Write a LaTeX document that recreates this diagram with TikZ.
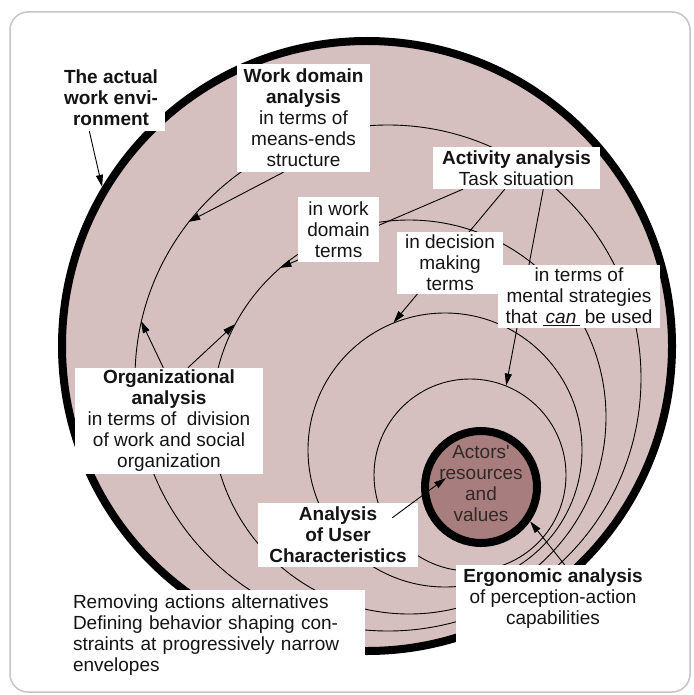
\documentclass[tikz,border=0pt]{standalone}
\usepackage{fontspec}
\setmainfont{Liberation Sans}
\newfontfamily\coresans{Liberation Sans}
\usetikzlibrary{arrows.meta,calc}
\pgfdeclarelayer{bg}
\pgfsetlayers{bg,main}
\definecolor{ringfill}{RGB}{214,192,191}
\definecolor{corefill}{RGB}{168,125,125}
\definecolor{framegray}{RGB}{196,196,196}
\definecolor{txt}{RGB}{20,20,20}
\definecolor{coretxt}{RGB}{50,40,40}
\begin{document}
\begin{tikzpicture}[x=1pt,y=-1pt,
  font=\fontsize{19pt}{21pt}\selectfont,
  textbox/.style={fill=white, inner sep=0pt, align=center, text=txt},
  ring/.style={circle, draw=black, inner sep=0pt},
  thinring/.style={ring, line width=0.9pt},
  link/.style={draw=black, line width=0.9pt},
  arrowlink/.style={link, -{Triangle[length=12pt,width=7pt]}},
]
\useasboundingbox (0,0) rectangle (693,695);

% text boxes (main layer)
\node[textbox, minimum width=108pt, minimum height=66pt] (env) at (111,98) {\textbf{The actual}\\\textbf{work envi-}\\\textbf{ronment}};
\node[textbox, minimum width=133pt, minimum height=108pt] (wd) at (303.5,118) {\textbf{Work domain}\\\textbf{analysis}\\in terms of\\means-ends\\structure};
\node[textbox, minimum width=167pt, minimum height=42pt] (act) at (516.5,168) {\textbf{Activity analysis}\\Task situation};
\node[textbox, minimum width=81pt, minimum height=65pt] (wdterms) at (338.5,229.5) {in work\\domain\\terms};
\node[textbox, minimum width=106pt, minimum height=62pt] (dec) at (450,263) {in decision\\making\\terms};
\node[textbox, minimum width=162pt, minimum height=63pt] (mental) at (579,296.5) {in terms of\\mental strategies\\that \underline{\,\textit{can}\,} be used};
\node[textbox, minimum width=188pt, minimum height=106pt] (org) at (169,421) {\textbf{Organizational}\\\textbf{analysis}\\in terms of\ \ division\\of work and social\\organization};
\node[textbox, minimum width=160pt, minimum height=64pt] (user) at (338,535) {\textbf{Analysis}\\\textbf{of User}\\\textbf{Characteristics}};
\node[textbox, minimum width=194pt, minimum height=67pt] (ergo) at (553,598.5) {\textbf{Ergonomic analysis}\\of perception-action\\capabilities};
\fill[white] (ergo.south west) rectangle ($(ergo.south east)+(0,34)$);
\node[textbox, align=left, text width=281pt, inner xsep=11pt, minimum height=90pt] (remove) at (213.5,635) {Removing actions alternatives\\Defining behavior shaping con-\\straints at progressively narrow\\envelopes};
\node[text=coretxt, align=center, inner sep=0pt, font=\coresans\fontsize{19pt}{21pt}\selectfont] (coretxt) at (481,484) {Actors'\\resources\\and\\values};

\begin{pgfonlayer}{bg}
\draw[framegray, line width=1.5pt, rounded corners=18pt] (10,12) rectangle (690,692);
\node[ring, line width=8pt, fill=ringfill, minimum size=610pt] (outer) at (367,346) {};
\node[thinring, minimum size=506pt] (cA) at (388,378) {};
\node[thinring, minimum size=394pt] (cB) at (409,417) {};
\node[thinring, minimum size=274pt] (cC) at (445,450) {};
\node[thinring, minimum size=192pt] (cD) at (470,475) {};
\node[ring, line width=8pt, fill=corefill, minimum size=112pt] (core) at (481,487) {};

\draw[arrowlink] ($(env.south west)!0.3!(env.south east)$) -- (outer.149);
\draw[arrowlink] ($(wd.south west)!0.35!(wd.south east)$) -- (cA.142);
\draw[arrowlink] ($(org.north west)!0.47!(org.north east)$) -- (cA.167);
\draw[arrowlink] ($(org.north west)!0.6!(org.north east)$) -- (cB.152);
\draw[arrowlink] ($(act.south west)!0.18!(act.south east)$) -- (cB.131);
\draw[arrowlink] ($(act.south west)!0.43!(act.south east)$) -- (cC.112);
\draw[arrowlink] ($(act.south west)!0.66!(act.south east)$) -- (cD.68);
\draw[arrowlink] ($(ergo.north west)!0.56!(ergo.north east)$) -- (core.-35);
\end{pgfonlayer}

\coordinate (coretip) at (446,478);
\draw[arrowlink] ($(user.north east)+(-26,15)$) -- (coretip);
\end{tikzpicture}
\end{document}
